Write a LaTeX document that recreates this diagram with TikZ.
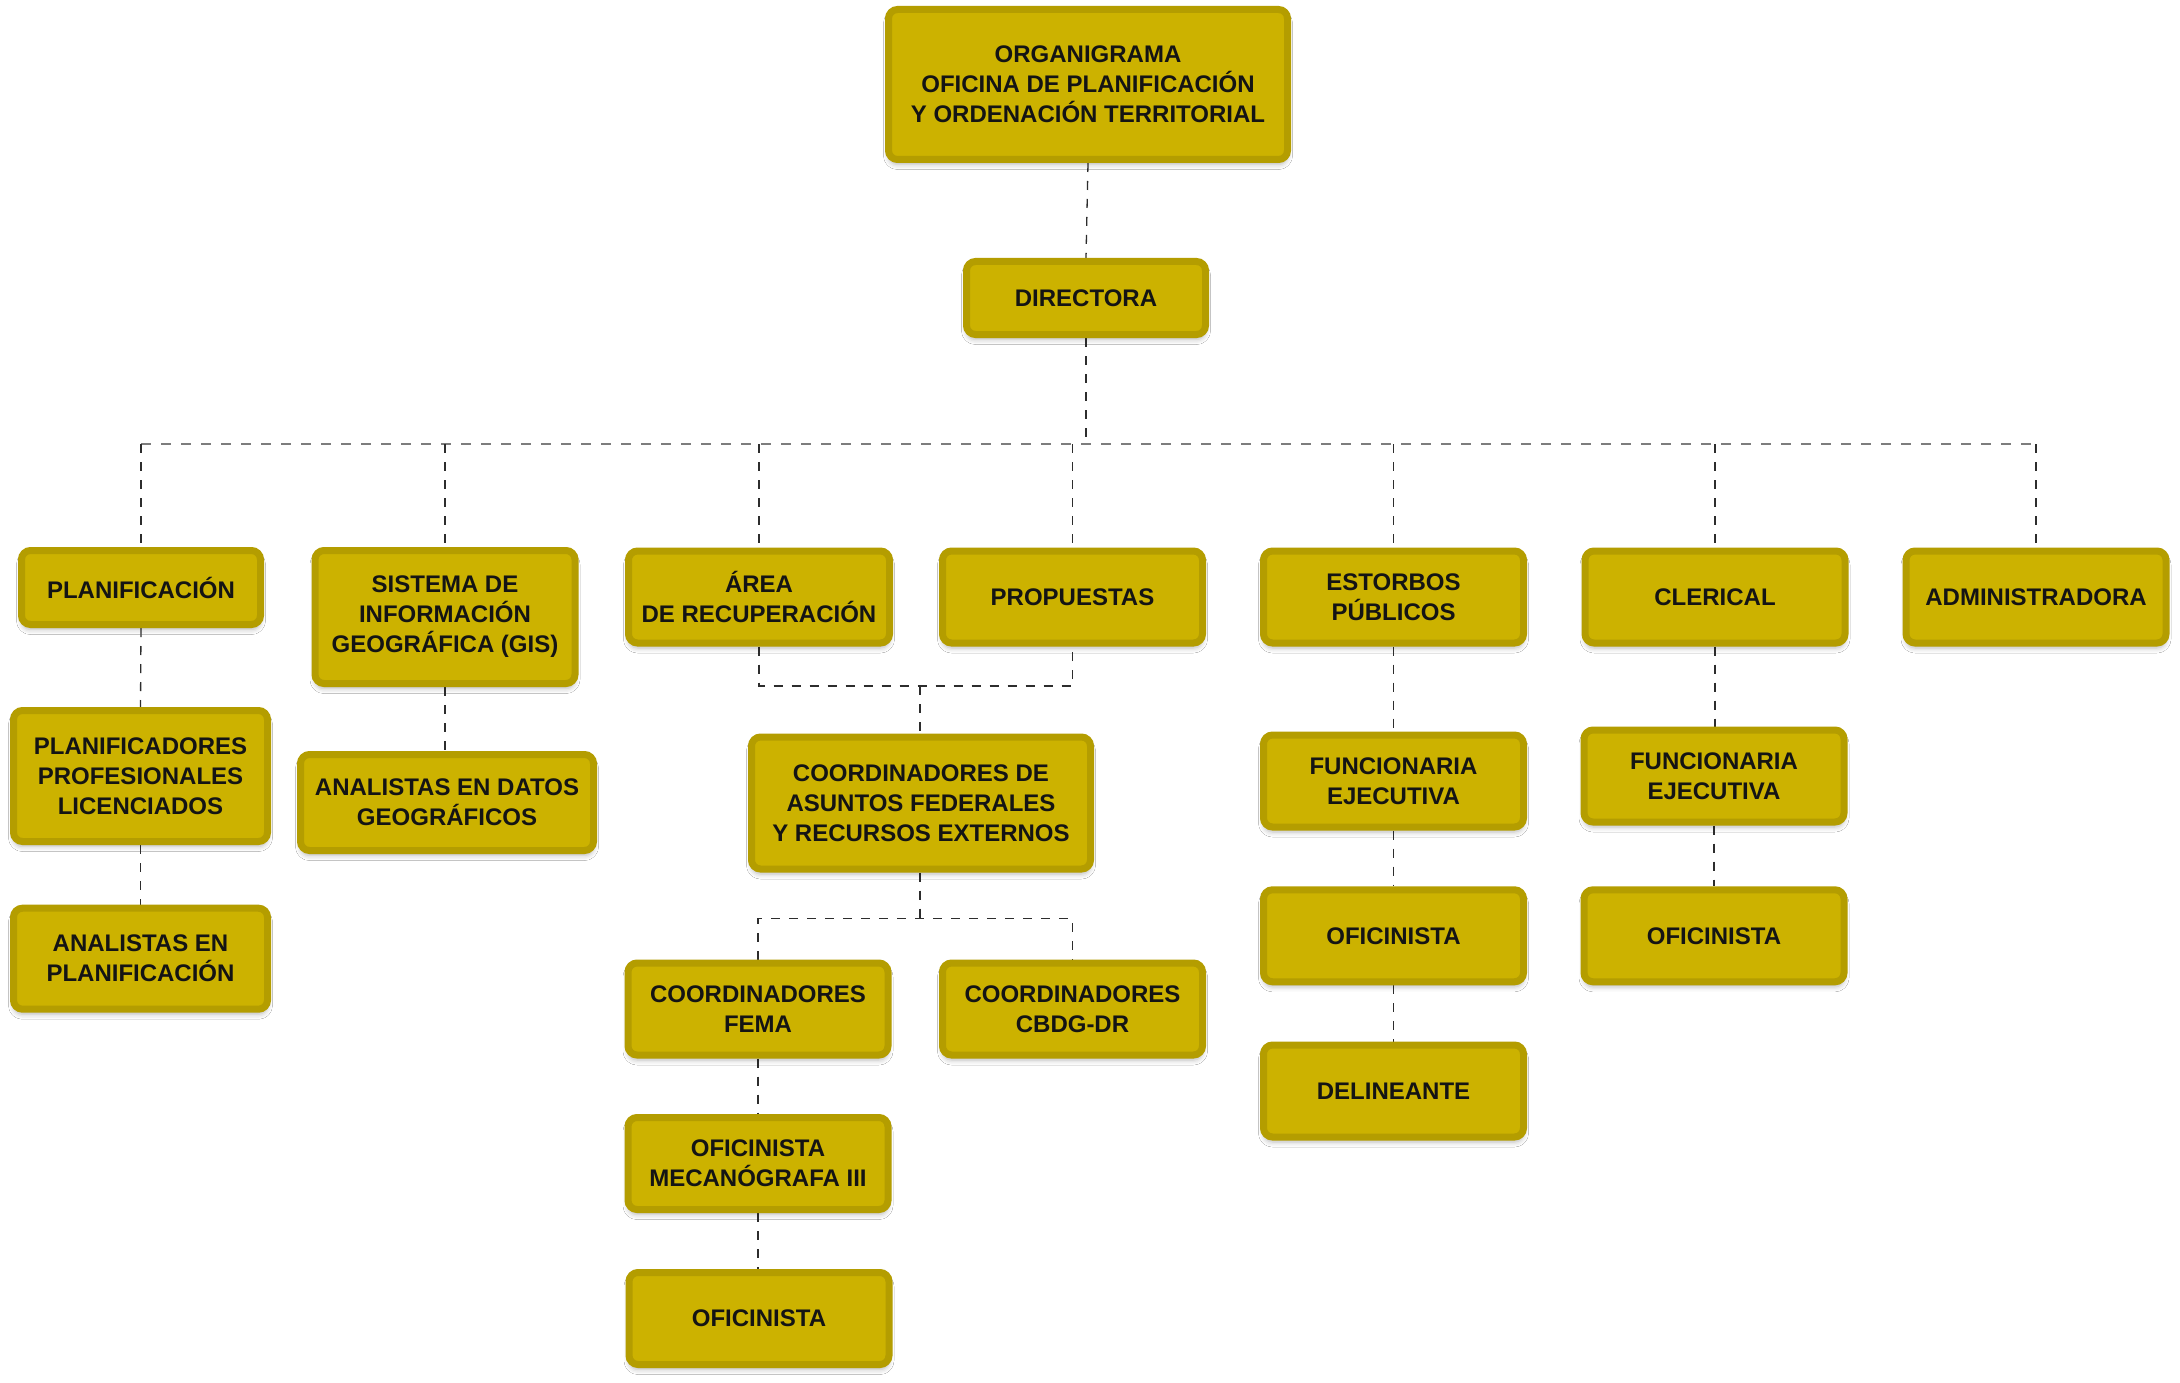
\documentclass[tikz,border=0pt]{standalone}
\usepackage{fontspec}
\setmainfont{Liberation Sans}
\usetikzlibrary{shadows.blur,backgrounds}
\definecolor{boxfill}{RGB}{204,178,0}
\definecolor{boxedge}{RGB}{180,157,0}
\definecolor{busgray}{RGB}{125,125,125}
\definecolor{linedark}{RGB}{45,45,45}
\begin{document}
\begin{tikzpicture}[x=1pt,y=-1pt,
  orgbox/.style={draw=boxedge, fill=boxfill, line width=7pt, rounded corners=9pt,
    inner sep=0pt, align=center, text=black!92,
    font=\fontsize{24}{30}\selectfont\bfseries,
    blur shadow={shadow xshift=0pt, shadow yshift=-5pt, shadow blur radius=5pt, shadow opacity=28}},
  dims/.style 2 args={minimum width=#1pt-7pt, minimum height=#2pt-7pt},
  link/.style={draw=linedark, line width=1.3pt, dash pattern=on 9pt off 9pt},
  buslink/.style={draw=busgray, line width=1.7pt, dash pattern=on 10pt off 10pt}]
\useasboundingbox (0,0) rectangle (2180,1383);
% nodes
\node[orgbox, dims={406}{157}] (top) at (1088,84.5) {ORGANIGRAMA\\OFICINA DE PLANIFICACIÓN\\Y ORDENACIÓN TERRITORIAL};
\node[orgbox, dims={246}{80}] (dir) at (1086,298) {DIRECTORA};
\node[orgbox, dims={246}{81}] (plan) at (141,587.5) {PLANIFICACIÓN};
\node[orgbox, dims={267}{140}] (gis) at (445,617) {SISTEMA DE\\INFORMACIÓN\\GEOGRÁFICA (GIS)};
\node[orgbox, dims={268}{99}] (area) at (759,597) {ÁREA\\DE RECUPERACIÓN};
\node[orgbox, dims={267}{99}] (prop) at (1072.5,597) {PROPUESTAS};
\node[orgbox, dims={267}{99}] (est) at (1393.5,597) {ESTORBOS\\PÚBLICOS};
\node[orgbox, dims={267}{99}] (cler) at (1715,597) {CLERICAL};
\node[orgbox, dims={267}{99}] (admin) at (2036,597) {ADMINISTRADORA};
\node[orgbox, dims={261}{138}] (planprof) at (140.5,776) {PLANIFICADORES\\PROFESIONALES\\LICENCIADOS};
\node[orgbox, dims={300}{103}] (analdatos) at (447,802.5) {ANALISTAS EN DATOS\\GEOGRÁFICOS};
\node[orgbox, dims={261}{108}] (analplan) at (140.5,958.7) {ANALISTAS EN\\PLANIFICACIÓN};
\node[orgbox, dims={346}{139}] (coord) at (921,803) {COORDINADORES DE\\ASUNTOS FEDERALES\\Y RECURSOS EXTERNOS};
\node[orgbox, dims={267}{99}] (fema) at (758,1009) {COORDINADORES\\FEMA};
\node[orgbox, dims={267}{99}] (cbdg) at (1072.5,1009) {COORDINADORES\\CBDG-DR};
\node[orgbox, dims={267}{99}] (mec) at (758,1163.5) {OFICINISTA\\MECANÓGRAFA III};
\node[orgbox, dims={267}{99}] (ofic3) at (759,1318.5) {OFICINISTA};
\node[orgbox, dims={267}{99}] (func1) at (1393.5,781) {FUNCIONARIA\\EJECUTIVA};
\node[orgbox, dims={267}{99}] (ofic1) at (1393.5,935.8) {OFICINISTA};
\node[orgbox, dims={267}{99}] (delin) at (1393.5,1091) {DELINEANTE};
\node[orgbox, dims={267}{99}] (func2) at (1714,776) {FUNCIONARIA\\EJECUTIVA};
\node[orgbox, dims={267}{99}] (ofic2) at (1714,935.8) {OFICINISTA};
% junction coordinates
\coordinate (bus) at (0,444);
\coordinate (j1) at (920,686);
\coordinate (j2) at (920,918.6);
\begin{scope}[on background layer]
\fill[white] (0,0) rectangle (2180,1383);
\draw[buslink] (plan.north |- bus) -- (admin.north |- bus);
\draw[link] (top.south) -- (dir.north);
\draw[link] (dir.south) -- (dir.south |- bus);
\foreach \n in {plan,gis,area,prop,est,cler,admin}
  \draw[link] (\n.north |- bus) -- (\n.north);
\draw[link] (plan.south) -- (planprof.north);
\draw[link] (planprof.south) -- (analplan.north);
\draw[link] (gis.south) -- (gis.south |- analdatos.north);
\draw[link] (area.south) |- (j1) -| (prop.south);
\draw[link] (j1) -- (j1 |- coord.north);
\draw[link] (j2 |- coord.south) -- (j2);
\draw[link] (fema.north) |- (j2) -| (cbdg.north);
\draw[link] (fema.south) -- (mec.north);
\draw[link] (mec.south) -- (mec.south |- ofic3.north);
\draw[link] (est.south) -- (func1.north);
\draw[link] (func1.south) -- (ofic1.north);
\draw[link] (ofic1.south) -- (delin.north);
\draw[link] (cler.south) -- (cler.south |- func2.north);
\draw[link] (func2.south) -- (ofic2.north);
\end{scope}
\end{tikzpicture}
\end{document}
